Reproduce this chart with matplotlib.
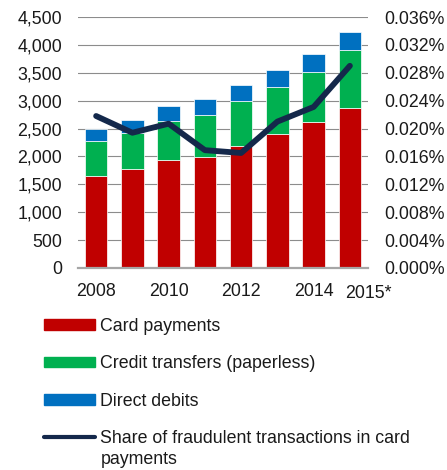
import numpy as np
import matplotlib
matplotlib.use("Agg")
import matplotlib.pyplot as plt
from matplotlib.patches import Patch
from matplotlib.lines import Line2D
from matplotlib.ticker import FuncFormatter

plt.rcParams['font.family'] = ['Liberation Sans', 'DejaVu Sans']

# data
years = ["2008", "2009", "2010", "2011", "2012", "2013", "2014", "2015*"]
card = [1655, 1770, 1942, 1985, 2193, 2408, 2623, 2874]
credit = [617, 645, 688, 758, 796, 832, 897, 1029]
debits = [226, 244, 275, 287, 292, 305, 323, 329]
fraud_share = [0.0218, 0.0194, 0.0207, 0.0169, 0.0165, 0.0210, 0.0231, 0.0290]
xtick_labels = ["2008", "2010", "2012", "2014"]

red = '#C00000'
green = '#00B050'
blue = '#0070C0'
navy = '#14284B'
txt = '#1a1a1a'
fs = 12.8

fig = plt.figure(figsize=(4.47, 4.70), dpi=100)
ax = fig.add_axes([0.1745, 0.4298, 0.6488, 0.534])

x = np.arange(len(years))
card = np.array(card)
credit = np.array(credit)
debits = np.array(debits)
w = 0.625
ax.bar(x, card, w, color=red, edgecolor='white', linewidth=0.5, zorder=2)
ax.bar(x, credit, w, bottom=card, color=green, edgecolor='white', linewidth=0.5, zorder=2)
ax.bar(x, debits, w, bottom=card + credit, color=blue, edgecolor='white', linewidth=0.5, zorder=2)

ax.set_xlim(-0.5, len(years) - 0.5)
ax.set_ylim(0, 4500)
ax.set_yticks(np.arange(0, 4501, 500))
ax.yaxis.set_major_formatter(FuncFormatter(lambda v, p: f"{int(v):,}"))
ax.grid(axis='y', color='#8c8c8c', linewidth=0.8)
ax.set_axisbelow(True)
for s in ['top', 'right', 'left']:
    ax.spines[s].set_visible(False)
ax.spines['bottom'].set_color('#a6a6a6')
ax.spines['bottom'].set_linewidth(1.6)
ax.tick_params(axis='y', length=0, labelsize=fs, pad=11.5, colors=txt)
ax.tick_params(axis='x', length=0, labelsize=fs, pad=11, colors=txt)
ax.set_xticks([years.index(t) for t in xtick_labels])
ax.set_xticklabels(xtick_labels)
ax.text(len(years) - 0.5, -0.1, years[-1], transform=ax.get_xaxis_transform(),
        ha='center', va='center', fontsize=fs, color=txt)

ax2 = ax.twinx()
ax2.plot(x, fraud_share, color=navy, linewidth=4.2, solid_capstyle='round', zorder=3)
ax2.set_ylim(0, 0.036)
ax2.set_yticks(np.arange(0, 0.0361, 0.004))
ax2.yaxis.set_major_formatter(FuncFormatter(lambda v, p: f"{v:.3f}%"))
for s in ax2.spines.values():
    s.set_visible(False)
ax2.tick_params(axis='y', length=0, labelsize=fs, pad=11.5, colors=txt)

# legend below the plot
handles = [Patch(color=red), Patch(color=green), Patch(color=blue),
           Line2D([0], [0], color=navy, linewidth=3, solid_capstyle='round')]
labels = ["Card payments", "Credit transfers (paperless)", "Direct debits",
          "Share of fraudulent transactions in card"]
fig.legend(handles, labels, loc='upper left', bbox_to_anchor=(0.0984, 0.324),
           frameon=False, fontsize=fs, handlelength=2.88, handletextpad=0.28,
           handleheight=0.55, labelspacing=1.15, borderaxespad=0, borderpad=0,
           labelcolor=txt)
fig.text(101 / 447, 1 - 459 / 470, "payments", fontsize=fs, va='center', ha='left',
         color=txt)

fig.savefig("out.png", dpi=100)
